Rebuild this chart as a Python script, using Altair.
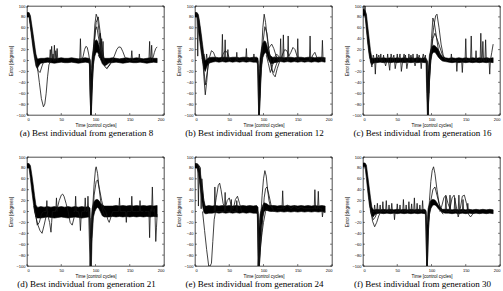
import altair as alt
import pandas as pd

# Shared time grid for the envelope of the densely overlapping runs
BAND_T = [0, 3, 5, 7, 9, 11, 13, 15, 17, 20, 25, 30, 35, 40, 45, 50, 55, 60, 65, 70,
          75, 80, 85, 90, 92, 93, 94, 95, 97, 99, 101, 103, 105, 107, 110, 113, 116,
          120, 125, 130, 135, 140, 145, 150, 155, 160, 165, 170, 175, 180, 185, 190]

# Lower / upper envelope of the bundle of runs, one pair per generation
A_LO = [80, 80, 60, 40, 20, 4, -10, -15, -10, -5, -4, -3, -4, -5, -4, -3, -4, -4, -3, -4,
        -5, -4, -3, -4, -8, -100, -100, -55, -8, 8, 15, 15, 10, 3, -6, -10, -8, -4, -4,
        -3, -4, -5, -4, -3, -4, -4, -3, -4, -5, -4, -3, -4]
A_HI = [88, 88, 82, 65, 48, 30, 12, 3, 3, 4, 4, 5, 4, 3, 4, 5, 4, 4, 5, 4,
        3, 4, 5, 4, 3, -35, -15, 5, 25, 35, 38, 36, 28, 18, 8, 4, 4, 4, 5,
        4, 3, 4, 5, 4, 4, 5, 4, 3, 4, 5, 4, 4]
B_LO = [80, 80, 55, 35, 15, -2, -15, -20, -12, -5, -3, -2, -3, -2, -3, -2, -3, -2, -3, -2,
        -3, -2, -3, -3, -8, -100, -100, -70, -15, 5, 12, 15, 10, 2, -5, -6, -4, -3, -2,
        -3, -2, -3, -2, -3, -2, -3, -2, -3, -2, -3, -2, -3]
B_HI = [88, 88, 84, 68, 50, 30, 10, 0, 2, 5, 6, 6, 5, 6, 6, 5, 6, 6, 5, 6,
        6, 5, 6, 6, 4, -40, -15, 5, 22, 32, 36, 35, 28, 18, 9, 6, 6, 6, 6,
        5, 6, 6, 5, 6, 6, 5, 6, 6, 5, 6, 6, 5]
C_LO = [82, 82, 55, 30, 10, -3, -8, -5, -4, -4, -3, -4, -3, -4, -3, -4, -3, -4, -3, -4,
        -3, -4, -3, -4, -4, -60, -100, -100, -30, 0, 12, 15, 15, 12, 6, 2, -1, -2, -3,
        -4, -3, -4, -3, -4, -3, -4, -3, -4, -3, -4, -3, -4]
C_HI = [95, 92, 85, 62, 40, 18, 4, 4, 4, 5, 4, 5, 4, 5, 4, 5, 4, 5, 4, 5,
        4, 5, 4, 5, 4, 2, -40, -20, 10, 20, 26, 28, 27, 25, 20, 12, 7, 5, 4,
        5, 4, 5, 4, 5, 4, 5, 4, 5, 4, 5, 4, 5]
D_LO = [80, 80, 60, 38, 18, 0, -10, -12, -12, -12, -11, -10, -11, -12, -11, -10, -11, -12, -11, -10,
        -11, -12, -11, -10, -12, -100, -100, -50, -10, 0, 5, 8, 5, 0, -8, -10, -10, -10, -9,
        -10, -9, -10, -9, -10, -9, -10, -9, -10, -9, -10, -9, -10]
D_HI = [88, 88, 84, 68, 50, 30, 12, 8, 8, 9, 8, 9, 8, 9, 8, 9, 8, 9, 8, 9,
        8, 9, 8, 9, 6, -50, -15, 5, 15, 20, 22, 22, 20, 16, 12, 10, 10, 10, 10,
        11, 10, 11, 10, 11, 10, 11, 10, 11, 10, 11, 10, 11]
E_LO = [80, 80, 70, 50, 30, 10, -2, -4, -4, -3, -3, -2, -3, -2, -3, -2, -3, -2, -3, -2,
        -3, -2, -3, -3, -6, -100, -100, -70, -30, -10, 0, 2, 2, 1, 0, 0, 0, -1, 0,
        -1, 0, -1, 0, -1, 0, -1, 0, -1, 0, -1, 0, -2]
E_HI = [88, 88, 86, 78, 60, 40, 20, 10, 10, 11, 10, 11, 10, 11, 10, 11, 10, 11, 10, 11,
        10, 11, 10, 11, 8, -40, -20, -5, 5, 12, 16, 15, 14, 12, 11, 11, 11, 10, 11,
        10, 11, 10, 11, 10, 11, 10, 11, 10, 11, 10, 11, 10]
F_LO = [82, 82, 60, 36, 15, 0, -8, -10, -6, -4, -3, -4, -3, -4, -3, -4, -3, -4, -3, -4,
        -3, -4, -3, -4, -6, -100, -100, -45, -5, 5, 10, 12, 12, 10, 5, 1, -2, -3, -3,
        -4, -3, -4, -3, -4, -3, -4, -3, -4, -3, -4, -3, -4]
F_HI = [89, 89, 85, 65, 45, 25, 8, 3, 3, 4, 3, 4, 3, 4, 3, 4, 3, 4, 3, 4,
        3, 4, 3, 4, 2, -35, -15, 5, 15, 20, 22, 22, 21, 18, 12, 7, 4, 4, 4,
        3, 4, 3, 4, 3, 4, 3, 4, 3, 4, 3, 4, 3]

# Individual runs that stand out from the bundle: (time, error) pairs
A_RUNS = [
    ([3, 8, 12, 15, 18, 21, 24, 26, 28, 30, 32, 35], [85, 45, 10, -10, -40, -70, -85, -80, -60, -30, -8, 0]),
    ([3, 9, 13, 16, 19, 22, 25], [86, 30, 0, -18, -22, -10, 0]),
    ([30, 33, 34, 35, 36, 37, 38, 39, 40, 41, 42, 43, 44, 45], [0, 2, 20, 0, 26, 2, 12, 0, 28, 0, 18, 2, 22, 0]),
    ([74, 77, 78, 79, 80, 82, 84, 86, 88, 90, 91, 92, 93], [0, 2, 40, 0, 0, 8, 20, 26, 24, 12, 4, 0, -100]),
    ([91, 93, 95, 97, 99, 101, 103, 105, 108, 111, 114, 117, 120, 124], [0, -100, -40, 20, 65, 85, 78, 55, 22, 0, -12, -15, -8, 0]),
    ([91, 93, 95, 98, 101, 104, 107, 110, 113, 116, 119], [0, -100, -30, 35, 70, 80, 50, 20, 0, -8, -2]),
    ([92, 94, 97, 100, 102, 104, 106, 109, 112], [0, -90, 10, 55, 62, 45, 30, 10, 0]),
    ([104, 106, 107, 108, 109, 110, 111, 112], [10, 5, 50, 5, 40, 2, 35, 0]),
    ([116, 120, 124, 128, 131, 134, 137, 140, 143, 146, 150], [-14, -10, -2, 10, 20, 25, 24, 16, 6, 0, 0]),
    ([150, 152, 153, 154, 160, 163, 164, 165], [0, 2, 18, 0, 0, 1, 12, 0]),
    ([170, 178, 179, 180, 181, 182, 183, 184, 185, 186, 188, 190], [0, 0, 35, 0, 5, 28, 0, 5, 10, 15, 22, 25]),
]
B_RUNS = [
    ([0, 3, 4, 5, 7, 10], [85, 86, 8, 80, 60, 25]),
    ([8, 11, 13, 15, 17, 19, 22], [40, 10, -30, -63, -40, -10, 0]),
    ([9, 12, 15, 18, 21, 24, 27, 30, 33], [30, 0, -45, -20, 5, 18, 15, 5, 0]),
    ([10, 12, 13, 14, 16, 17, 18, 20], [5, 0, 12, 0, 0, 12, 0, 0]),
    ([36, 39, 40, 41, 43, 44, 45, 47, 48, 49], [0, 0, 48, 0, 0, 38, 0, 2, 20, 0]),
    ([38, 41, 44, 47, 50, 53], [0, 12, 18, 15, 5, 0]),
    ([58, 60, 61, 62, 72, 74, 75, 76, 85, 86, 87], [0, 0, 15, 0, 0, 0, 22, 0, 0, 12, 0]),
    ([91, 93, 95, 97, 99, 101, 103, 106, 109, 112, 115, 118, 121, 125], [0, -100, -60, 10, 60, 85, 70, 35, 5, -18, -22, -10, 0, 0]),
    ([92, 94, 96, 99, 102, 105, 108, 111, 114, 117, 120, 124], [0, -100, -30, 30, 62, 50, 20, -5, -25, -30, -15, 0]),
    ([104, 107, 110, 113, 116, 119, 122, 125], [10, -5, -22, -10, 5, 12, 8, 0]),
    ([106, 109, 112, 115, 118, 121, 124], [20, 25, 30, 22, 10, 2, 0]),
    ([122, 124, 125, 126, 128, 129, 130, 131, 135, 136, 137, 138], [0, 0, 40, 0, 0, 47, 2, 0, 0, 45, 0, 0]),
    ([125, 128, 131, 134, 137, 140, 143, 146, 149, 152], [0, 12, 20, 18, 8, 15, 24, 20, 8, 0]),
    ([146, 149, 150, 151, 165, 167, 168, 169, 172, 175, 178, 183, 185, 186, 187, 190], [0, 0, 40, 0, 0, 0, 45, 0, 10, 15, 5, 0, 0, 37, 0, 5]),
]
C_RUNS = [
    ([0, 2, 3, 4, 5, 7, 10, 12], [88, 90, 100, 80, 70, 40, 5, 0]),
    ([11, 13, 14, 15, 17, 18, 19, 20, 21, 23, 25, 26, 27, 29, 30, 31, 33, 35, 36, 37, 39, 40, 41, 43, 45, 46, 47, 49, 50, 51],
     [0, -12, 0, 10, 0, -25, 0, 12, 0, 10, 0, 12, -2, 0, 10, 0, -10, 0, 12, 0, -18, 0, 12, 0, 10, 0, -15, 0, 12, 0]),
    ([52, 54, 55, 56, 58, 60, 61, 62, 64, 66, 67, 68, 70, 72, 73, 74, 76, 78, 79, 80, 82, 84, 85, 86, 88, 90, 91, 92],
     [0, 12, 0, -20, 0, 12, 0, 10, -15, 0, 12, 0, 10, 0, 12, 0, -10, 0, 12, 0, 10, 0, -15, 0, 12, 0, 10, 0]),
    ([93, 95, 97, 100, 103, 106, 108, 111, 114, 117, 120, 124], [0, -100, -40, 20, 60, 82, 85, 60, 30, 10, 2, 0]),
    ([93, 95, 97, 100, 102, 104, 107, 110, 113, 116], [0, -100, -20, 40, 78, 70, 45, 20, 5, 0]),
    ([94, 96, 99, 102, 105, 108, 112, 116, 120], [0, -60, 10, 40, 50, 40, 25, 10, 2]),
    ([125, 128, 129, 130, 134, 136, 137, 138, 142, 144, 145, 146, 148, 149, 150, 151, 155, 157, 158, 159, 162, 164, 165, 166],
     [0, 0, 12, 0, 0, 0, -20, 0, 0, 0, -22, 0, 0, 0, 40, 0, 0, 0, 45, 0, 0, 0, 18, 0]),
    ([168, 171, 172, 173, 174, 175, 176, 178, 179, 180, 182, 184, 185, 186, 188, 190],
     [0, 0, 50, 0, 2, 35, 0, 0, 38, 0, 5, 0, -25, 0, 15, 30]),
]
D_RUNS = [
    ([10, 13, 16, 19, 22, 25, 28, 31], [10, -10, -25, -35, -40, -25, -8, 0]),
    ([12, 15, 18, 21, 24], [0, -25, -20, -5, 0]),
    ([25, 28, 29, 30, 33, 35, 36, 37, 40, 42, 43, 44], [0, 0, 20, -5, -20, -38, -20, 0, 0, 0, 25, 0]),
    ([40, 44, 47, 50, 52, 54, 57, 60, 63, 66, 69], [0, 5, 20, 30, 32, 28, 15, 0, -20, -25, -10]),
    ([68, 70, 71, 72, 75, 77, 78, 79, 80, 82, 84, 85, 86, 88, 89, 90, 91], [0, 0, 28, 0, 0, -10, -35, -10, 0, 0, 0, 25, 0, 0, 28, 0, 0]),
    ([90, 92, 94, 96, 98, 100, 101, 103, 105, 108, 111, 114, 117], [0, -100, -40, 10, 50, 78, 82, 70, 45, 15, 0, -10, -5]),
    ([91, 93, 95, 98, 101, 103, 106, 109, 112, 115], [0, -100, -30, 30, 55, 58, 40, 20, 5, 0]),
    ([115, 118, 120, 122, 125, 130, 134, 135, 136, 140, 144, 145, 146, 150, 152, 153, 154, 160, 164, 165, 166, 170],
     [0, -15, -20, -12, 0, 0, 0, 25, 0, 0, 0, -20, 0, 0, 0, 28, 0, 0, 0, 20, 0, 0]),
    ([172, 176, 178, 179, 180, 181, 182, 183, 184, 185, 186, 187, 188, 189, 190], [0, 0, 0, -48, 0, 5, 0, 45, 0, 0, 5, -10, -55, -30, -5]),
]
E_RUNS = [
    ([0, 3, 4, 5, 6, 8, 9, 10, 12, 14], [85, 86, 84, 10, 84, 80, 5, 60, 30, 5]),
    ([11, 14, 17, 20, 22, 24, 26, 28, 30], [0, -35, -70, -100, -100, -95, -55, -15, 0]),
    ([28, 31, 34, 36, 38, 41, 44, 47, 50, 53, 56, 59, 62, 65, 68], [0, 25, 48, 52, 40, 15, 5, 20, 25, 10, 5, 22, 28, 15, 0]),
    ([28, 29, 30, 31, 43, 44, 45, 46, 52, 53, 54, 55, 60, 61, 62], [0, 45, 2, 0, 0, 35, 0, 0, 0, 22, 0, 0, 0, 20, 0]),
    ([91, 92, 94, 96, 98, 100, 102, 104, 106, 108, 110, 113, 116], [0, -100, -60, -10, 30, 60, 75, 65, 40, 20, 10, 5, 0]),
    ([91, 93, 95, 97, 99, 101, 103, 105, 108, 111, 114], [0, -100, -75, -45, -10, 25, 42, 45, 30, 12, 5]),
    ([92, 94, 96, 98, 100, 103, 106], [0, -100, -60, -38, -20, 0, 5]),
    ([120, 126, 127, 128, 129, 135, 140, 145, 150, 155, 160, 170, 173, 174, 175, 176, 178, 179, 180, 181, 185, 186, 187, 190],
     [5, 5, 5, 38, 5, 12, 5, 10, 5, 8, 5, 5, 5, 5, 40, 5, 5, 5, 37, 5, 5, -10, 0, 0]),
]
F_RUNS = [
    ([8, 11, 14, 17, 20, 23, 26], [40, 5, -18, -28, -20, -8, 0]),
    ([9, 12, 15, 18, 21], [25, -5, -15, -10, 0]),
    ([14, 16, 17, 18, 20, 21, 22, 24, 25, 26, 28, 29, 30, 33, 34, 35, 37, 38, 39, 41, 42, 43, 45, 46, 47, 49, 50, 51, 53, 54, 55],
     [0, 0, 12, 0, 0, 15, 0, 0, 12, 0, 0, 18, 0, 0, 20, 0, 0, 12, 0, 0, 15, 0, 0, -15, 0, 0, 14, 0, 0, 12, 0]),
    ([56, 58, 59, 60, 62, 63, 64, 66, 67, 68, 70, 71, 72, 74, 75, 76, 78, 79, 80, 82, 83, 84, 86, 87, 88, 90, 91],
     [0, 0, 22, 0, 0, 12, 0, 0, 18, 0, 0, 14, 0, 0, 25, 0, 0, 15, 0, 0, 12, 0, 0, 20, 0, 0, 0]),
    ([91, 93, 95, 97, 99, 101, 103, 105, 108, 111, 114, 117], [0, -100, -40, 20, 55, 75, 82, 70, 40, 15, 0, -5]),
    ([92, 94, 96, 99, 102, 105, 108, 111, 114, 117], [0, -100, -20, 20, 40, 45, 30, 15, 5, 0]),
    ([112, 115, 118, 121, 124, 127, 130, 133, 136, 139, 142, 145, 148, 151, 154, 157, 160, 163],
     [0, 10, 25, 30, 15, 5, 25, 30, 10, -10, 5, 28, 30, 15, -5, -10, -5, 0]),
    ([118, 120, 121, 122, 124, 126, 127, 128, 131, 133, 134, 135, 137, 139, 140, 141, 143, 145, 146, 147, 150, 152, 153, 154],
     [0, 0, 28, 0, 0, 0, 30, 0, 0, 0, 25, 0, 0, 0, 30, 0, 0, 0, 22, 0, 0, 0, 15, 0]),
]

CAPTIONS = [
    "(a) Best individual from generation 8",
    "(b) Best individual from generation 12",
    "(c) Best individual from generation 16",
    "(d) Best individual from generation 21",
    "(e) Best individual from generation 24",
    "(f) Best individual from generation 30",
]
X_TICKS = [0, 50, 100, 150, 200]
Y_TICKS = [-100, -80, -60, -40, -20, 0, 20, 40, 60, 80, 100]

PANELS = [
    (A_LO, A_HI, A_RUNS), (B_LO, B_HI, B_RUNS), (C_LO, C_HI, C_RUNS),
    (D_LO, D_HI, D_RUNS), (E_LO, E_HI, E_RUNS), (F_LO, F_HI, F_RUNS),
]

W, H = 137, 109
SANS = "Liberation Sans"
SERIF = "Liberation Serif"

x_scale = alt.Scale(domain=[0, 200], nice=False, zero=False)
y_scale = alt.Scale(domain=[-100, 100], nice=False, zero=False)

x_axis = alt.Axis(values=X_TICKS, title="Time [control cycles]", ticks=False, domain=False,
                  grid=False, labelFont=SANS, labelFontSize=4, labelPadding=2,
                  titleFont=SANS, titleFontSize=4.5, titleFontWeight="normal",
                  titlePadding=1.5, labelColor="black", titleColor="black")
y_axis = alt.Axis(values=Y_TICKS, title="Error [degrees]", ticks=False, domain=False,
                  grid=False, labelFont=SANS, labelFontSize=4, labelPadding=2,
                  titleFont=SANS, titleFontSize=4.5, titleFontWeight="normal",
                  titlePadding=2.5, labelColor="black", titleColor="black")

xt_df = pd.DataFrame({"t": X_TICKS})
yt_df = pd.DataFrame({"v": Y_TICKS})


def panel(lo, hi, runs, caption):
    band_df = pd.DataFrame({"t": BAND_T, "lo": lo, "hi": hi})
    rows = []
    for k, (ts, vs) in enumerate(runs):
        for t, v in zip(ts, vs):
            rows.append({"run": k, "t": t, "v": v})
    run_df = pd.DataFrame(rows)

    band = alt.Chart(band_df).mark_area(color="black", stroke="black", strokeWidth=0.6,
                                        clip=True).encode(
        x=alt.X("t:Q", scale=x_scale, axis=x_axis),
        y=alt.Y("lo:Q", scale=y_scale, axis=y_axis),
        y2="hi:Q",
    )
    lines = alt.Chart(run_df).mark_line(color="#111111", strokeWidth=0.8, clip=True).encode(
        x=alt.X("t:Q", scale=x_scale, axis=x_axis),
        y=alt.Y("v:Q", scale=y_scale, axis=y_axis),
        detail="run:N",
    )
    # inward tick marks on all four sides of the frame
    tb = alt.Chart(xt_df).mark_rule(color="black", strokeWidth=0.5).encode(
        x=alt.X("t:Q", scale=x_scale, axis=x_axis), y=alt.value(H), y2=alt.value(H - 2))
    tt = alt.Chart(xt_df).mark_rule(color="black", strokeWidth=0.5).encode(
        x=alt.X("t:Q", scale=x_scale, axis=x_axis), y=alt.value(0), y2=alt.value(2))
    tl = alt.Chart(yt_df).mark_rule(color="black", strokeWidth=0.5).encode(
        y=alt.Y("v:Q", scale=y_scale, axis=y_axis), x=alt.value(0), x2=alt.value(2))
    tr = alt.Chart(yt_df).mark_rule(color="black", strokeWidth=0.5).encode(
        y=alt.Y("v:Q", scale=y_scale, axis=y_axis), x=alt.value(W), x2=alt.value(W - 2))

    return alt.layer(band, lines, tb, tt, tl, tr).properties(
        width=W, height=H,
        title=alt.TitleParams(text=caption, orient="bottom", anchor="middle",
                              frame="group", dx=-9, font=SERIF, fontSize=9,
                              fontWeight="normal", color="black", offset=2),
    )


charts = [panel(lo, hi, runs, cap) for (lo, hi, runs), cap in zip(PANELS, CAPTIONS)]

chart = alt.concat(*charts, columns=3, spacing={"row": 42, "column": 31},
                   bounds="flush").configure(
    padding={"left": 8, "top": 3, "right": 0, "bottom": 0},
    background="white",
).configure_view(stroke="black", strokeWidth=0.7)

chart.save("out.html", embed_options={"renderer": "svg", "actions": False})
